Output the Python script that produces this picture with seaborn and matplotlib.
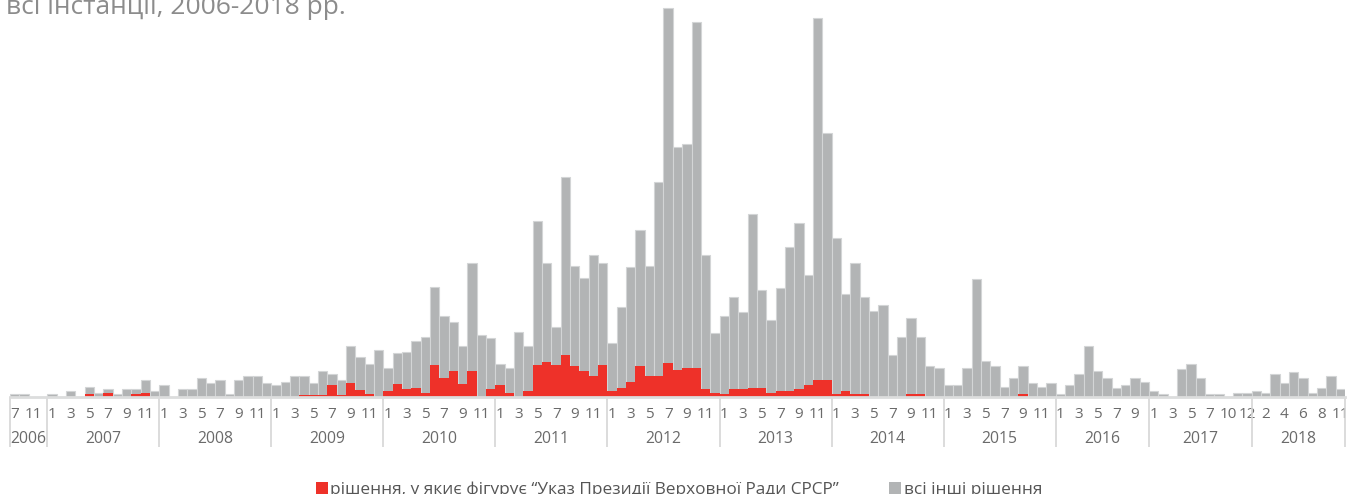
import numpy as np
import pandas as pd
import matplotlib
matplotlib.use('Agg')
import matplotlib.pyplot as plt
import seaborn as sns
from matplotlib.patches import Patch

# monthly categories shown on the axis (some months are absent in the source)
years = ([2006] * 4 + [2007] * 12 + [2008] * 12 + [2009] * 12 + [2010] * 12
         + [2011] * 12 + [2012] * 12 + [2013] * 12 + [2014] * 12 + [2015] * 12
         + [2016] * 10 + [2017] * 11 + [2018] * 10)
months = ([7, 8, 11, 12] + list(range(1, 13)) * 9
          + list(range(1, 11))
          + [1, 2, 3, 4, 5, 6, 7, 8, 10, 11, 12]
          + [1, 2, 3, 4, 5, 6, 7, 8, 9, 11])

# decisions that cite the decree (red)
decree = [
    0, 0, 0, 0,                                                   # 2006
    0, 0, 0, 0, 3, 0, 4.5, 0, 0, 3, 4.5, 0,                       # 2007
    0, 0.5, 0, 0, 0, 0, 0, 0, 0, 0, 0, 0,                         # 2008
    0, 0, 0, 2, 2, 2, 12, 2, 13.7, 7, 2.7, 0,                     # 2009
    6, 13, 7.7, 9, 3.7, 31.7, 18.7, 26, 13, 26, 0, 7.7,           # 2010
    12, 4.3, 0, 6, 32, 35.3, 32, 41.7, 31, 26, 21, 32,            # 2011
    6.3, 9.3, 15.3, 31, 21.3, 21.3, 34.3, 27, 28.7, 28.7, 8, 4.3,  # 2012
    2.7, 8, 8, 9.3, 9.3, 4.3, 6.3, 6.3, 8, 12, 17, 17,            # 2013
    2.7, 6.3, 2.7, 2.7, 0, 0, 0, 0, 2.7, 2.7, 0, 0,               # 2014
    0, 0, 0, 0, 0, 0, 0, 0, 3, 0, 0, 0,                           # 2015
    0, 0, 0, 0, 0, 0, 0, 0, 0, 0,                                 # 2016
    0, 0, 0, 0, 0, 0, 0, 0, 0, 0, 0,                              # 2017
    0, 0, 0, 0, 0, 0, 0, 0, 0, 0,                                 # 2018
]

# all other decisions (grey)
others = [
    3, 3, 0, 0,                                                   # 2006
    3, 0, 6.5, 0, 7, 4.5, 3.5, 3, 8, 5, 12.5, 6,                  # 2007
    12, 0, 8, 8, 18.7, 13.7, 17, 3, 17, 21, 21, 13.7,             # 2008
    12, 15, 21, 19, 11.7, 24.3, 11, 15, 37.3, 33, 30, 47,         # 2009
    22.7, 30.7, 37.6, 47.3, 56.6, 78.6, 62.3, 49.3, 38, 108.3, 62, 51,        # 2010
    20.7, 24.4, 65.3, 45, 144, 99, 37.7, 178.3, 100, 92.7, 121, 102.3,        # 2011
    47.4, 81, 114.4, 136, 109.7, 194, 354.4, 223.3, 224, 346.6, 134, 60,      # 2012
    78.3, 92.3, 76.7, 173.7, 97.7, 72.7, 103, 143.4, 166.3, 110, 362.3, 246.7,  # 2013
    156.3, 96.7, 131.6, 97.6, 86.3, 92, 42, 60.3, 76.6, 57.6, 31.3, 28.7,     # 2014
    12, 12, 28.7, 118, 36, 31, 9.7, 19.3, 28, 13.7, 9.7, 13.7,    # 2015
    2.7, 12, 23, 51, 26.3, 18.7, 9.3, 12, 18.7, 15.3,             # 2016
    6.3, 2.7, 0, 28, 32.7, 18.7, 2.7, 2.7, 0, 4.3, 4.3,           # 2017
    6.3, 4.3, 23, 13.7, 24.7, 18.7, 4.3, 9.3, 21.3, 7.7,          # 2018
]

legend_labels = ['рішення, у якиє фігурує “Указ Президії Верховної Ради СРСР”',
                 'всі інші рішення']
title_text = 'всі інстанції, 2006-2018 рр.'

RED = '#ee3129'
GREY = '#b2b4b5'
EDGE = '#d3d5d6'
TXT = '#6a6a6a'

df = pd.DataFrame({'year': years, 'month': months, 'decree': decree, 'others': others})
df['pos'] = np.arange(len(df))
df['total'] = df['decree'] + df['others']
n = len(df)

sns.set_style('white')
plt.rcParams['font.family'] = ['Open Sans', 'DejaVu Sans']

W, H = 1353, 494
fig = plt.figure(figsize=(W / 100, H / 100), dpi=100)
ax = fig.add_axes([10 / W, 97 / H, 1335 / W, 397 / H])

# stacked bars: grey total behind, red part in front
sns.barplot(data=df, x='pos', y='total', color=GREY, saturation=1, width=1,
            edgecolor=EDGE, linewidth=0.8, errorbar=None, ax=ax)
sns.barplot(data=df, x='pos', y='decree', color=RED, saturation=1, width=1,
            linewidth=0, errorbar=None, ax=ax)

ax.set_xlim(-0.5, n - 0.5)
ax.set_ylim(0, 397)
ax.set_xlabel('')
ax.set_ylabel('')
ax.set_yticks([])
for s in ['left', 'right', 'top']:
    ax.spines[s].set_visible(False)
ax.spines['bottom'].set_color('#dcdddd')
ax.spines['bottom'].set_linewidth(2)

# month labels on every other category
ax.set_xticks(df['pos'][::2])
ax.set_xticklabels(df['month'][::2].astype(str), fontsize=11, color=TXT)
ax.tick_params(axis='x', length=0, pad=7)

# year groups: separators and centred labels
trans = ax.get_xaxis_transform()
starts = df.groupby('year')['pos'].min()
ends = df.groupby('year')['pos'].max()
bounds = list(starts.values - 0.5) + [n - 0.5]
for b in bounds:
    ax.plot([b, b], [0, -0.127], transform=trans, color='#d5d6d6', lw=1.2,
            clip_on=False, solid_capstyle='butt')
for yr in starts.index:
    mid = (starts[yr] + ends[yr]) / 2
    ax.text(mid, -0.105, str(yr), transform=trans, ha='center', va='center',
            fontsize=11.3, color=TXT)

# title line, cut by the top edge as in the source
fig.text(6 / W, 1 - 14 / H, title_text, fontsize=19, color='#8c8c8c',
         ha='left', va='baseline')

handles = [Patch(facecolor=RED, edgecolor='none'),
           Patch(facecolor=GREY, edgecolor='none')]
fig.legend(handles, legend_labels, loc='center left', ncol=2,
           bbox_to_anchor=(307 / W, 4 / H), frameon=False, fontsize=12.4,
           handlelength=0.7, handleheight=0.7, handletextpad=0.15,
           columnspacing=2.9, borderpad=0, labelcolor='#555555')

fig.savefig('out.png', dpi=100)
